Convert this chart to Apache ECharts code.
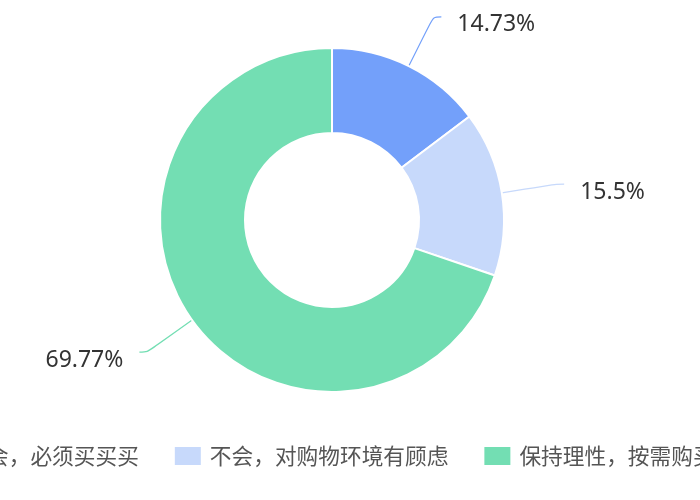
<!DOCTYPE html>
<html>
<head>
<meta charset="utf-8">
<script src="https://cdn.jsdelivr.net/npm/echarts@6/dist/echarts.min.js"></script>
<style>
html,body{margin:0;padding:0;background:#fff;}
#main{width:700px;height:500px;}
</style>
</head>
<body>
<div id="main"></div>
<script>
const categories = ['会，必须买买买', '不会，对购物环境有顾虑', '保持理性，按需购买'];
const values = [14.73, 15.5, 69.77];
const colors = ['#73a0fa', '#c7d9fb', '#73deb3'];

const chart = echarts.init(document.getElementById('main'));
chart.setOption({
  animation: false,
  color: colors,
  legend: {
    left: -50,
    top: 445,
    width: 1000,
    padding: 0,
    itemWidth: 28,
    itemHeight: 20,
    itemGap: 34,
    icon: 'rect',
    textStyle: {
      fontFamily: 'Noto Sans CJK SC',
      fontSize: 21.7,
      color: '#555',
      padding: [0, 0, 0, 3]
    },
    data: categories
  },
  series: [{
    type: 'pie',
    center: [332, 220],
    radius: [87, 172],
    startAngle: 90,
    clockwise: true,
    avoidLabelOverlap: false,
    itemStyle: { borderColor: '#fff', borderWidth: 2 },
    label: {
      formatter: function (p) { return '\n' + p.value + '%'; },
      fontFamily: 'Noto Sans',
      fontSize: 23,
      lineHeight: 16,
      color: '#333',
      distanceToLabelLine: 16
    },
    labelLine: {
      length: 55,
      length2: 8,
      smooth: true,
      lineStyle: { width: 1.2 }
    },
    data: categories.map((c, i) => ({ name: c, value: values[i] }))
  }]
});
</script>
</body>
</html>
